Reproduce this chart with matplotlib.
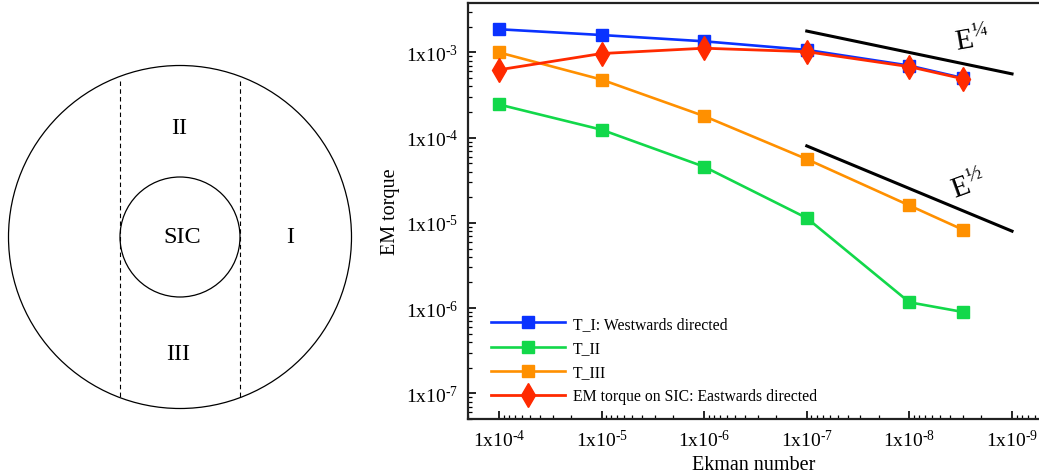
import numpy as np
import matplotlib
matplotlib.use('Agg')
import matplotlib.pyplot as plt
from matplotlib.patches import Circle
from matplotlib.ticker import LogLocator, FuncFormatter, NullFormatter

plt.rcParams['font.family'] = ['Liberation Serif', 'DejaVu Serif']
plt.rcParams['mathtext.fontset'] = 'custom'
plt.rcParams['mathtext.rm'] = 'Liberation Serif'
plt.rcParams['mathtext.it'] = 'Liberation Serif:italic'

# data
ekman = [1e-4, 1e-5, 1e-6, 1e-7, 1e-8, 3e-9]
t_1 = [1.87e-3, 1.6e-3, 1.35e-3, 1.07e-3, 0.70e-3, 0.50e-3]
t_2 = [2.45e-4, 1.24e-4, 4.56e-5, 1.14e-5, 1.17e-6, 9.0e-7]
t_3 = [1.0e-3, 4.8e-4, 1.79e-4, 5.6e-5, 1.6e-5, 8.3e-6]
t_sic = [6.25e-4, 9.7e-4, 1.12e-3, 1.02e-3, 6.8e-4, 4.9e-4]

# scaling guide lines
guide_x = [1e-7, 1e-9]
guide_14 = [1.78e-3, 5.6e-4]
guide_12 = [8e-5, 8e-6]

labels = ['T_I: Westwards directed', 'T_II', 'T_III',
          'EM torque on SIC: Eastwards directed']
colors = ['#0a32ff', '#12d84a', '#ff9000', '#ff2a00']
regions = ['I', 'II', 'III', 'SIC']

fig = plt.figure(figsize=(10.39, 4.77), dpi=100)

# ---- left: schematic (axes units = pixels)
axl = fig.add_axes([0, 0, 370/1039, 1])
axl.set_xlim(0, 370)
axl.set_ylim(477, 0)
axl.axis('off')
cx, cy, r_out, r_in = 180, 238, 171.5, 60
axl.add_patch(Circle((cx, cy), r_out, fill=False, lw=0.9, color='black'))
axl.add_patch(Circle((cx, cy), r_in, fill=False, lw=0.9, color='black'))
h = np.sqrt(r_out**2 - r_in**2)
for xd in (cx - r_in, cx + r_in):
    axl.plot([xd, xd], [cy - h + 5, cy + h - 1], color='black', lw=0.8,
             linestyle=(0, (4, 3)))
txt_pos = {'I': (290, 238), 'II': (179, 128), 'III': (178, 355), 'SIC': (182, 238)}
for name in regions:
    axl.text(*txt_pos[name], name, fontsize=17.5, ha='center', va='center')

# ---- right: torque vs Ekman number
ax = fig.add_axes([468/1039, 57/477, 571/1039, 416/477])
series = [t_1, t_2, t_3, t_sic]
for i, (vals, lab, col) in enumerate(zip(series, labels, colors)):
    if i == 3:
        ax.plot(ekman, vals, color=col, lw=2.0, marker='d', markersize=12,
                label=lab, zorder=5)
    else:
        ax.plot(ekman, vals, color=col, lw=1.9, marker='s', markersize=8,
                label=lab, zorder=3)

ax.plot(guide_x, guide_14, color='black', lw=2.2)
ax.plot(guide_x, guide_12, color='black', lw=2.2)
ax.text(2.45e-9, 1.43e-3, r'$\mathregular{E^{¼}}$', fontsize=21,
        rotation=10, ha='center', va='center')
ax.text(2.68e-9, 2.78e-5, r'$\mathregular{E^{½}}$', fontsize=21,
        rotation=20, ha='center', va='center')

ax.set_xscale('log')
ax.set_yscale('log')
ax.set_xlim(2.0e-4, 5.46e-10)
ax.set_ylim(5e-8, 3.8e-3)

fmt = FuncFormatter(lambda v, p: r'$\mathregular{1x10^{‐%d}}$' % abs(int(round(np.log10(v)))))
for axis in (ax.xaxis, ax.yaxis):
    axis.set_major_locator(LogLocator(base=10, numticks=20))
    axis.set_minor_locator(LogLocator(base=10, subs=np.arange(2, 10), numticks=20))
    axis.set_major_formatter(fmt)
    axis.set_minor_formatter(NullFormatter())

ax.tick_params(which='both', direction='in', top=False, right=False)
ax.tick_params(which='major', length=6, width=1.2, labelsize=14, pad=7)
ax.tick_params(which='minor', length=3, width=0.9)
ax.spines['right'].set_visible(False)
for s in ('left', 'bottom', 'top'):
    ax.spines[s].set_linewidth(1.6)
    ax.spines[s].set_color('#222222')

ax.set_xlabel('Ekman number', fontsize=14.5, labelpad=4)
ax.set_ylabel('EM torque', fontsize=14.5, labelpad=4)

ax.legend(loc='lower left', bbox_to_anchor=(0.03, 0.02), frameon=False,
          fontsize=11.3, handlelength=4.7, handletextpad=0.5, labelspacing=0.52,
          numpoints=1, borderaxespad=0)

fig.savefig('out.png', dpi=100)
